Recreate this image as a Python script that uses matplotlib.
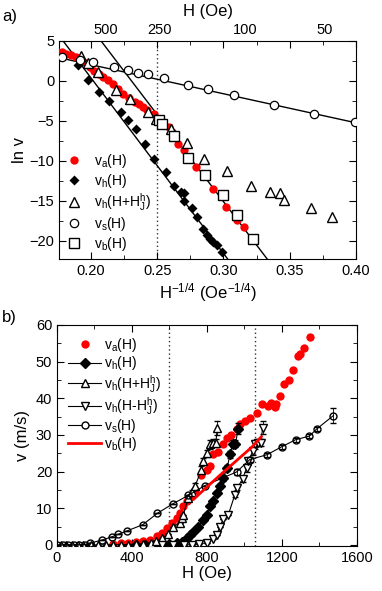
import numpy as np
import matplotlib
matplotlib.use('Agg')
import matplotlib.pyplot as plt
from matplotlib.ticker import MultipleLocator
from matplotlib.lines import Line2D
import matplotlib.transforms as mtransforms

plt.rcParams['font.family'] = ['Liberation Sans', 'DejaVu Sans']
plt.rcParams['mathtext.fontset'] = 'custom'
plt.rcParams['mathtext.rm'] = 'Liberation Sans'
plt.rcParams['mathtext.it'] = 'Liberation Sans:italic'
plt.rcParams['xtick.direction'] = 'in'
plt.rcParams['ytick.direction'] = 'in'
plt.rcParams['xtick.top'] = True
plt.rcParams['ytick.right'] = True
plt.rcParams['font.size'] = 10.5

# ---- panel a): ln v vs H^-1/4 ----
a_va_x = [0.174, 0.178, 0.181, 0.185, 0.1885, 0.192, 0.196, 0.199, 0.2026, 0.206, 0.209,
          0.213, 0.2167, 0.2205, 0.2244, 0.229, 0.2333, 0.2365, 0.2397, 0.2423, 0.2474,
          0.25, 0.2538, 0.259, 0.2615, 0.2654, 0.2705, 0.2795, 0.2923, 0.302, 0.3103, 0.3154]
a_va_y = [3.7, 3.6, 3.4, 3.2, 3.0, 2.6, 2.2, 1.8, 1.3, 0.9, 0.5,
          0.1, -0.34, -1.0, -1.6, -2.1, -2.6, -2.9, -3.25, -3.7, -4.1,
          -4.75, -5.2, -5.8, -6.4, -7.9, -8.7, -10.8, -13.5, -15.8, -17.4, -18.3]

a_vh_x = [0.1905, 0.1982, 0.2064, 0.214, 0.2231, 0.2277, 0.2338, 0.241, 0.2474, 0.2564,
          0.2628, 0.268, 0.2705, 0.2705, 0.2764, 0.2803, 0.2846, 0.2877, 0.2897, 0.2923,
          0.2949, 0.2987]
a_vh_y = [2.04, 0.12, -1.34, -2.46, -3.84, -4.96, -6.0, -7.9, -9.75, -11.4,
          -13.2, -13.9, -14.1, -15.0, -15.9, -17.1, -18.5, -19.3, -19.75, -20.2,
          -20.6, -21.4]

a_vhj_x = [0.1923, 0.198, 0.2052, 0.2192, 0.2295, 0.2428, 0.249, 0.2602, 0.2725, 0.2851,
           0.303, 0.321, 0.3354, 0.343, 0.3456, 0.3659, 0.382]
a_vhj_y = [3.16, 2.3, 1.07, -1.2, -2.3, -3.84, -4.75, -6.0, -7.8, -9.75,
           -11.3, -13.2, -13.9, -14.1, -14.9, -15.9, -17.05]

a_vs_x = [0.178, 0.1915, 0.202, 0.2175, 0.228, 0.2354, 0.2428, 0.255, 0.2736, 0.288,
          0.3077, 0.3385, 0.3685, 0.399]
a_vs_y = [2.95, 2.6, 2.4, 1.8, 1.4, 1.03, 0.8, 0.33, -0.5, -1.05,
          -1.75, -2.96, -4.1, -5.2]

a_vb_x = [0.2515, 0.2538, 0.2628, 0.2733, 0.2859, 0.3, 0.3106, 0.3225]
a_vb_y = [-4.9, -5.35, -6.85, -9.6, -11.75, -14.3, -16.8, -19.8]

# linear fits (intercept, slope)
fit_vh = (44.4, -220.0)
fit_vb = (50.26, -217.9)
fit_vs = (9.31, -36.4)

top_ticks_H = [500, 250, 100, 50]

# ---- panel b): v vs H ----
b_va_H = [300, 340, 380, 420, 460, 496, 532, 558, 585, 611, 638, 656, 674, 692, 709, 736,
          771, 800, 816, 834, 860, 887, 905, 926, 958, 976, 1003, 1029, 1065, 1095, 1124,
          1143, 1163, 1168, 1189, 1212, 1237, 1260, 1287, 1296, 1319, 1349]
b_va_v = [0.3, 0.4, 0.5, 0.7, 1.0, 1.4, 2.3, 3.2, 4.6, 5.9, 7.3, 8.7, 10.5, 11.9, 13.2, 15.1,
          19.2, 20.5, 21.5, 24.7, 25.3, 27.4, 29.2, 30.1, 31.5, 32.9, 33.8, 34.6, 36.1, 38.4, 37.9,
          38.8, 37.7, 38.4, 40.6, 44.0, 45.1, 47.6, 51.6, 52.0, 53.6, 56.8]

b_vh_H = [420, 470, 520, 560, 600, 638, 665, 692, 709, 727, 754, 780, 798, 816, 834, 852,
          869, 887, 908, 923, 938, 952, 967]
b_vh_v = [0, 0, 0, 0.05, 0.2, 0.5, 0.9, 1.8, 2.7, 3.6, 5.0, 6.8, 8.2, 10.5, 11.9, 14.2,
          16.0, 18.3, 21.0, 24.7, 27.6, 27.6, 31.7]
b_vh_e = [0, 0, 0, 0, 0, 0, 0, 0, 0, 0, 0, 0, 0, 0, 0, 0.5,
          0.5, 0.8, 0.8, 1.0, 1.0, 1.0, 1.5]

b_vhp_H = [20, 50, 80, 110, 140, 180, 220, 260, 300, 340, 380, 420, 460, 500, 530, 560,
           594, 620, 656, 665, 674, 700, 718, 736, 771, 780, 798, 816, 832, 848, 855]
b_vhp_v = [0, 0, 0, 0, 0, 0, 0, 0, 0.05, 0.05, 0.1, 0.15, 0.3, 0.6, 1.0, 1.8,
           3.0, 5.0, 6.0, 7.3, 8.2, 12.8, 14.5, 16.0, 20.5, 22.8, 25.0, 27.4, 27.9, 27.9, 31.9]
b_vhp_e = [0, 0, 0, 0, 0, 0, 0, 0, 0, 0, 0, 0, 0, 0, 0, 0,
           0, 0, 0, 0, 0, 0.5, 0.5, 0.8, 1.0, 1.0, 1.0, 1.2, 1.0, 1.0, 1.8]

b_vhm_H = [560, 620, 680, 720, 760, 800, 830, 852, 869, 887, 914, 949, 962, 990, 1012, 1020,
           1045, 1056, 1072, 1088, 1097]
b_vhm_v = [0, 0, 0, 0.1, 0.3, 0.6, 1.5, 2.7, 5.0, 7.0, 8.2, 13.7, 15.5, 18.0, 21.0, 22.8,
           25.5, 27.4, 27.9, 27.9, 32.0]
b_vhm_e = [0, 0, 0, 0, 0, 0, 0, 0, 0, 0, 0, 0.5, 0.5, 0.8, 1.0, 1.0, 1.0, 1.2, 1.0, 1.0, 1.8]

b_vs_H = [0, 30, 60, 90, 120, 150, 176, 238, 292, 327, 372, 457, 535, 617, 700, 789,
          958, 1029, 1120, 1200, 1273, 1347, 1385, 1475]
b_vs_v = [0, 0, 0, 0, 0.05, 0.1, 0.5, 1.3, 2.2, 2.9, 3.8, 5.5, 8.6, 11.2, 13.5, 16.2,
          19.9, 23.3, 24.6, 26.8, 28.7, 29.7, 31.6, 35.3]
b_vs_e = [0, 0, 0, 0, 0, 0, 0, 0, 0, 0, 0, 0, 0, 0, 0, 0,
          0.8, 0.8, 0.5, 0.5, 0.5, 0.5, 0.6, 2.0]

b_vb_H = [730, 800, 880, 960, 1040, 1090]
b_vb_v = [12.5, 15.8, 19.5, 23.1, 26.7, 29.5]

lab_a = r'v$_\mathregular{a}$(H)'
lab_h = r'v$_\mathregular{h}$(H)'
lab_hp = r'v$_\mathregular{h}$(H+H$_\mathregular{J}^\mathregular{h}$)'
lab_hm = r'v$_\mathregular{h}$(H-H$_\mathregular{J}^\mathregular{h}$)'
lab_s = r'v$_\mathregular{s}$(H)'
lab_b = r'v$_\mathregular{b}$(H)'

fig = plt.figure(figsize=(3.82, 5.91), dpi=100)
ax1 = fig.add_axes([0.1545, 0.5618, 0.7775, 0.3689])
ax2 = fig.add_axes([0.1492, 0.0761, 0.785, 0.374])

# panel a
xx = np.linspace(0.17, 0.41, 50)
for b0, k in (fit_vh, fit_vb, fit_vs):
    ax1.plot(xx, b0 + k * xx, color='black', lw=1.0, zorder=2)
ax1.axvline(0.25, color='#333333', ls=(0, (1, 2)), lw=1.0, zorder=1)

ax1.plot(a_va_x, a_va_y, 'o', color='red', ms=6, mec='none', zorder=3, label=lab_a)
ax1.plot(a_vh_x, a_vh_y, 'D', color='black', ms=5.5, mec='none', zorder=4, label=lab_h)
ax1.plot(a_vhj_x, a_vhj_y, '^', mfc='white', mec='black', mew=1.0, ms=7.5, zorder=5, label=lab_hp)
ax1.plot(a_vs_x, a_vs_y, 'o', mfc='white', mec='black', mew=0.9, ms=6, zorder=5, label=lab_s)
ax1.plot(a_vb_x, a_vb_y, 's', mfc='white', mec='black', mew=1.0, ms=7, zorder=5, label=lab_b)

ax1.set_xlim(0.176, 0.40)
ax1.set_ylim(-22.3, 5)
ax1.xaxis.set_major_locator(MultipleLocator(0.05))
ax1.xaxis.set_minor_locator(MultipleLocator(0.025))
ax1.yaxis.set_major_locator(MultipleLocator(5))
ax1.yaxis.set_minor_locator(MultipleLocator(2.5))
ax1.tick_params(which='major', length=5)
ax1.tick_params(which='minor', length=3)
ax1.set_xticklabels([f'{t:.2f}' for t in ax1.get_xticks()])
ax1.set_xlabel(r'H$^{\mathregular{-1/4}}$ (Oe$^{\mathregular{-1/4}}$)', fontsize=12, labelpad=2)
ax1.set_ylabel('ln v', fontsize=12, labelpad=2)

# top H axis labels
trans = mtransforms.blended_transform_factory(ax1.transData, ax1.transAxes)
for h in top_ticks_H:
    ax1.text(h ** -0.25, 1.02, str(h), transform=trans, ha='center', va='bottom', fontsize=10.5)
ax1.text(0.5, 1.10, 'H (Oe)', transform=ax1.transAxes, ha='center', va='bottom', fontsize=12)

ax1.legend(loc='lower left', bbox_to_anchor=(0.0, 0.0), frameon=False, fontsize=10,
           handletextpad=0.9, labelspacing=0.12, borderaxespad=0.05, handlelength=1.2)

fig.text(0.005, 0.965, 'a)', fontsize=12)

# panel b
ax2.axvline(600, color='#333333', ls=(0, (1, 2)), lw=1.0, zorder=1)
ax2.axvline(1056, color='#333333', ls=(0, (1, 2)), lw=1.0, zorder=1)

ax2.plot(b_va_H, b_va_v, 'o', color='red', ms=6, mec='none', zorder=3)
ax2.errorbar(b_vh_H, b_vh_v, yerr=b_vh_e, fmt='-D', color='black', ms=5, lw=0.8,
             capsize=2, elinewidth=0.6, zorder=4)
ax2.errorbar(b_vhp_H, b_vhp_v, yerr=b_vhp_e, fmt='-^', color='black', mfc='white', ms=6,
             lw=0.8, capsize=2, elinewidth=0.6, zorder=4)
ax2.errorbar(b_vhm_H, b_vhm_v, yerr=b_vhm_e, fmt='-v', color='black', mfc='white', ms=6,
             lw=0.8, capsize=2, elinewidth=0.6, zorder=4)
ax2.errorbar(b_vs_H, b_vs_v, yerr=b_vs_e, fmt='-o', color='black', mfc='none', ms=5,
             lw=0.8, capsize=2, elinewidth=0.6, zorder=4)
ax2.plot(b_vb_H, b_vb_v, '-', color='red', lw=2, zorder=5)

ax2.set_xlim(0, 1600)
ax2.set_ylim(-0.3, 60)
ax2.xaxis.set_major_locator(MultipleLocator(400))
ax2.xaxis.set_minor_locator(MultipleLocator(200))
ax2.yaxis.set_major_locator(MultipleLocator(10))
ax2.yaxis.set_minor_locator(MultipleLocator(5))
ax2.tick_params(which='major', length=5)
ax2.tick_params(which='minor', length=3)
ax2.set_xlabel('H (Oe)', fontsize=12, labelpad=1)
ax2.set_ylabel('v (m/s)', fontsize=12, labelpad=4)

handles = [
    Line2D([], [], ls='none', marker='o', color='red', mec='none', ms=6),
    Line2D([], [], ls='-', marker='D', color='black', ms=5, lw=0.8),
    Line2D([], [], ls='-', marker='^', color='black', mfc='white', ms=6, lw=0.8),
    Line2D([], [], ls='-', marker='v', color='black', mfc='white', ms=6, lw=0.8),
    Line2D([], [], ls='-', marker='o', color='black', mfc='white', ms=5, lw=0.8),
    Line2D([], [], ls='-', color='red', lw=2),
]
ax2.legend(handles, [lab_a, lab_h, lab_hp, lab_hm, lab_s, lab_b],
           loc='upper left', bbox_to_anchor=(0.0, 1.0), frameon=False, fontsize=10,
           handletextpad=0.2, labelspacing=0.02, borderaxespad=0.4, handlelength=2.4)

fig.text(0.005, 0.455, 'b)', fontsize=12)

fig.savefig('out.png', dpi=100)
